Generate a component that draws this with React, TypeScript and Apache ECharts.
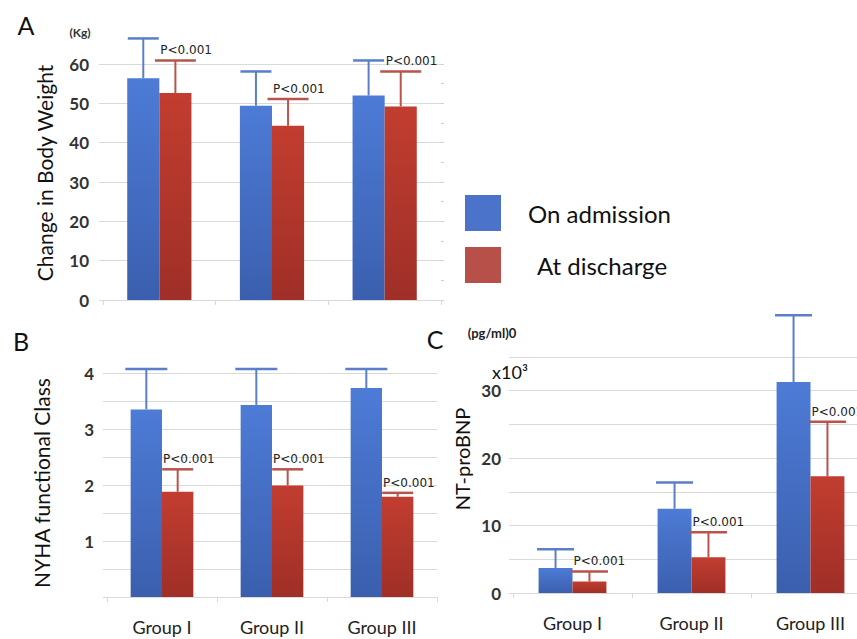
import React, { useEffect, useRef } from "react";
import * as echarts from "echarts";

// ---- data ----
const categories = ["Group I", "Group II", "Group III"];
const seriesNames = ["On admission", "At discharge"];

// Panel A: body weight (kg), means and SD (upper error)
const weightAdmission = [56.4, 49.4, 52.0];
const weightAdmissionSD = [10.1, 8.7, 8.9];
const weightDischarge = [52.6, 44.3, 49.2];
const weightDischargeSD = [8.3, 6.8, 8.9];

// Panel B: NYHA functional class
const nyhaAdmission = [3.35, 3.43, 3.73];
const nyhaAdmissionSD = [0.72, 0.64, 0.34];
const nyhaDischarge = [1.88, 1.99, 1.79];
const nyhaDischargeSD = [0.4, 0.29, 0.07];

// Panel C: NT-proBNP (x10^3 pg/ml)
const bnpAdmission = [3.7, 12.5, 31.3];
const bnpAdmissionSD = [2.8, 3.9, 9.9];
const bnpDischarge = [1.7, 5.3, 17.3];
const bnpDischargeSD = [1.5, 3.7, 8.1];

const pLabels = ["P<0.001", "P<0.001", "P<0.001"];

// axis ranges / tick intervals
const weightAxis = { min: 0, max: 60, interval: 10 };
const nyhaAxis = { min: 0, max: 4, interval: 0.5 };
const bnpAxis = { min: 0, max: 35, interval: 5 };

// ---- styles ----
const BAR_CAT_GAP = 0.43;
const BAR_FRAC = (1 - BAR_CAT_GAP) / 2;
const FONT = "Lato";
const GRID_COLOR = "#d9d9d9";

const blueFill = new echarts.graphic.LinearGradient(0, 0, 0, 1, [
  { offset: 0, color: "#4d7bd6" },
  { offset: 1, color: "#3b5fae" },
]);
const redFill = new echarts.graphic.LinearGradient(0, 0, 0, 1, [
  { offset: 0, color: "#c23d30" },
  { offset: 1, color: "#9f2f27" },
]);
const blueErr = "#5a7fc8";
const redErr = "#b9534c";

function barSeries(name: string, data: number[], gi: number, fill: any) {
  return {
    name,
    type: "bar",
    xAxisIndex: gi,
    yAxisIndex: gi,
    data,
    barGap: "0%",
    barCategoryGap: BAR_CAT_GAP * 100 + "%",
    itemStyle: { color: fill },
    silent: true,
  };
}

function errSeries(
  means: number[],
  sds: number[],
  gi: number,
  side: number,
  capW: number,
  color: string,
  withLabel: boolean
) {
  return {
    type: "custom",
    xAxisIndex: gi,
    yAxisIndex: gi,
    clip: false,
    silent: true,
    z: 5,
    data: means.map((m, i) => [i, m, m + sds[i]]),
    renderItem: (params: any, api: any) => {
      const i = api.value(0);
      const m = api.value(1);
      const t = api.value(2);
      const p0 = api.coord([i, m]);
      const p1 = api.coord([i, t]);
      const bw = api.size([1, 0])[0] * BAR_FRAC;
      const x = p0[0] + (side === 0 ? -bw / 2 : bw / 2);
      const children: any[] = [
        {
          type: "line",
          shape: { x1: x, y1: p0[1], x2: x, y2: p1[1] },
          style: { stroke: color, lineWidth: 2 },
        },
        {
          type: "line",
          shape: { x1: x - capW / 2, y1: p1[1], x2: x + capW / 2, y2: p1[1] },
          style: { stroke: color, lineWidth: 2.5 },
        },
      ];
      if (withLabel) {
        children.push({
          type: "text",
          x: p0[0] + 1,
          y: p1[1] - 4,
          style: {
            text: pLabels[params.dataIndex],
            font: '12px "DejaVu Sans"',
            fill: "#222",
            align: "left",
            verticalAlign: "bottom",
          },
        });
      }
      return { type: "group", children };
    },
  };
}

function xAxis(gi: number, showLabels: boolean) {
  return {
    type: "category",
    gridIndex: gi,
    data: categories,
    axisLine: { lineStyle: { color: GRID_COLOR, width: 1 } },
    axisTick: { show: true, length: 5, lineStyle: { color: GRID_COLOR } },
    axisLabel: {
      show: showLabels,
      fontFamily: FONT,
      fontSize: 18,
      color: "#222",
      margin: 21,
    },
  };
}

function yAxis(gi: number, range: any, margin: number, fmt: (v: number) => string) {
  return {
    type: "value",
    gridIndex: gi,
    min: range.min,
    max: range.max,
    interval: range.interval,
    axisLine: { show: false },
    axisTick: { show: true, length: 4, lineStyle: { color: GRID_COLOR } },
    splitLine: { lineStyle: { color: GRID_COLOR, width: 1 } },
    axisLabel: {
      fontFamily: FONT,
      fontSize: 17,
      fontWeight: "bold",
      color: "#333",
      margin,
      formatter: fmt,
    },
  };
}

function vText(text: string, x: number, y: number, size: number) {
  return {
    type: "text",
    x,
    y,
    rotation: Math.PI / 2,
    style: {
      text,
      font: `${size}px ${FONT}`,
      fill: "#111",
      align: "center",
      verticalAlign: "middle",
    },
  };
}

function hText(text: string, x: number, y: number, font: string, color = "#111") {
  return {
    type: "text",
    x,
    y,
    style: { text, font, fill: color, align: "center", verticalAlign: "middle" },
  };
}

export default function App() {
  const ref = useRef<HTMLDivElement>(null);

  useEffect(() => {
    if (!ref.current) return;
    const chart = echarts.init(ref.current, undefined, { renderer: "svg" });
    const option: any = {
      animation: false,
      backgroundColor: "#ffffff",
      grid: [
        { left: 103, top: 64, width: 338, height: 236, outerBoundsMode: "none" },
        { left: 107, top: 373, width: 330, height: 224, outerBoundsMode: "none" },
        { left: 513, top: 357, width: 357, height: 236, outerBoundsMode: "none" },
      ],
      xAxis: [xAxis(0, false), xAxis(1, true), xAxis(2, true)],
      yAxis: [
        yAxis(0, weightAxis, 14, (v) => String(v)),
        yAxis(1, nyhaAxis, 13, (v) => (v >= 1 && Number.isInteger(v) ? String(v) : "")),
        yAxis(2, bnpAxis, 12, (v) => (v % 10 === 0 ? String(v) : "")),
        {
          type: "value",
          gridIndex: 0,
          position: "right",
          min: weightAxis.min,
          max: weightAxis.max,
          interval: 5,
          axisLine: { show: false },
          axisTick: { show: true, length: 3, lineStyle: { color: "#cfcfcf" } },
          axisLabel: { show: false },
          splitLine: { show: false },
        },
      ],
      legend: {
        orient: "vertical",
        left: 465,
        top: 195,
        padding: 0,
        itemWidth: 36,
        itemHeight: 36,
        itemGap: 16,
        icon: "rect",
        selectedMode: false,
        textStyle: { fontFamily: FONT, fontSize: 24, color: "#111", padding: [0, 0, 0, 22] },
        data: [
          { name: seriesNames[0], itemStyle: { color: "#4a73c9" } },
          {
            name: seriesNames[1],
            itemStyle: { color: "#b8504a" },
            textStyle: { padding: [0, 0, 0, 31] },
          },
        ],
      },
      series: [
        barSeries(seriesNames[0], weightAdmission, 0, blueFill),
        barSeries(seriesNames[1], weightDischarge, 0, redFill),
        barSeries(seriesNames[0], nyhaAdmission, 1, blueFill),
        barSeries(seriesNames[1], nyhaDischarge, 1, redFill),
        barSeries(seriesNames[0], bnpAdmission, 2, blueFill),
        barSeries(seriesNames[1], bnpDischarge, 2, redFill),
        errSeries(weightAdmission, weightAdmissionSD, 0, 0, 31, blueErr, false),
        errSeries(weightDischarge, weightDischargeSD, 0, 1, 41, redErr, true),
        errSeries(nyhaAdmission, nyhaAdmissionSD, 1, 0, 42, blueErr, false),
        errSeries(nyhaDischarge, nyhaDischargeSD, 1, 1, 31, redErr, true),
        errSeries(bnpAdmission, bnpAdmissionSD, 2, 0, 37, blueErr, false),
        errSeries(bnpDischarge, bnpDischargeSD, 2, 1, 37, redErr, true),
      ],
      graphic: [
        hText("A", 26, 25, `25px ${FONT}`),
        hText("B", 21, 341, `25px ${FONT}`),
        hText("C", 435, 339, `25px ${FONT}`),
        hText("(Kg)", 80, 32, `bold 12px ${FONT}`, "#333"),
        hText("(pg/ml)0", 492, 333, `bold 13px ${FONT}`, "#222"),
        hText("x10³", 510, 372, `18px ${FONT}`, "#111"),
        vText("Change in Body Weight", 44, 173, 21),
        vText("NYHA functional Class", 41, 483, 21),
        vText("NT-proBNP", 462, 459, 20),
      ],
    };
    chart.setOption(option);
    return () => chart.dispose();
  }, []);

  return (
    <div
      ref={ref}
      style={{ position: "fixed", left: 0, top: 0, width: 857, height: 639 }}
    />
  );
}
